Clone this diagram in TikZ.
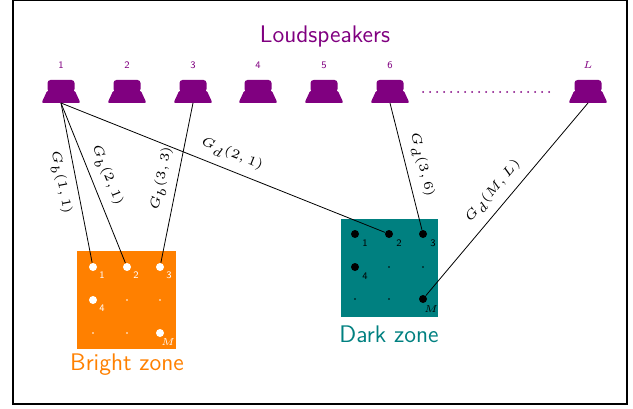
\documentclass[tikz,border=0pt]{standalone}
\usepackage{tikz}
\renewcommand{\familydefault}{\sfdefault}
\definecolor{spkcol}{RGB}{128,0,128}
\definecolor{brightcol}{RGB}{255,128,0}
\definecolor{darkcol}{RGB}{0,128,128}
\newcommand{\glab}[1]{\scalebox{1.3}{\tiny$#1$}}
\tikzset{
    speaker/.pic={
        \fill[spkcol, rounded corners=1pt] (-19.5,0) -- (-13.5,13) -- (13.5,13) -- (19.5,0) -- cycle;
        \fill[spkcol, rounded corners=1.5pt] (-13.5,11) rectangle (13.5,23);
        \coordinate (-b) at (0,0);
    }
}
\begin{document}
\begin{tikzpicture}[x=0.5pt, y=0.5pt,
        spknum/.style={font=\tiny, text=spkcol},
        glbl/.style={sloped, inner sep=4pt},
        bdot/.style={circle, fill=white, inner sep=0pt, minimum size=4pt},
        bpt/.style={circle, fill=white, inner sep=0pt, minimum size=0.8pt},
        ddot/.style={circle, fill=black, inner sep=0pt, minimum size=4pt},
        dpt/.style={circle, fill=black, inner sep=0pt, minimum size=0.8pt},
        zlbl/.style={font=\tiny, inner sep=0pt}]
    \useasboundingbox (0,0) rectangle (633,408);
    \draw[line width=0.8pt] (13,4) rectangle (627,407.6);

    \node[font=\large, text=spkcol] (title) at (325,371) {Loudspeakers};
        \pic (s1) at (61,305) {speaker};
            \node[spknum] (n1) at (61,343) {1};
        \pic (s2) at (127,305) {speaker};
            \node[spknum] (n2) at (127,343) {2};
        \pic (s3) at (193,305) {speaker};
            \node[spknum] (n3) at (193,343) {3};
        \pic (s4) at (258,305) {speaker};
            \node[spknum] (n4) at (258,343) {4};
        \pic (s5) at (324,305) {speaker};
            \node[spknum] (n5) at (324,343) {5};
        \pic (s6) at (390,305) {speaker};
            \node[spknum] (n6) at (390,343) {6};
        \pic (sL) at (588,305) {speaker};
            \node[spknum] (nL) at (588,343) {$L$};
        \draw[spkcol, line width=1pt, line cap=round, dash pattern=on 0pt off 3.5pt] (423,316) -- (554,316);

    % bright zone
    \fill[brightcol] (77,59) rectangle (176,157);
        \node[bdot] (b1) at (93,141) {};
            \node[zlbl, white] (bl1) at (102,133) {1};
        \node[bdot] (b2) at (127,141) {};
            \node[zlbl, white] (bl2) at (136,133) {2};
        \node[bdot] (b3) at (160,141) {};
            \node[zlbl, white] (bl3) at (169,133) {3};
        \node[bdot] (b4) at (93,108) {};
            \node[zlbl, white] (bl4) at (102,100) {4};
        \node[bpt] (b5) at (127,108) {};
        \node[bpt] (b6) at (160,108) {};
        \node[bpt] (b7) at (93,75) {};
        \node[bpt] (b8) at (127,75) {};
        \node[bdot] (bM) at (160,75) {};
            \node[zlbl, white] (blM) at (168,66) {$M$};
    \node[font=\large, text=brightcol] (bright) at (127,43) {Bright zone};

    % dark zone
    \fill[darkcol] (341,91) rectangle (438,189);
        \node[ddot] (d1) at (355,174) {};
            \node[zlbl] (dl1) at (365,165) {1};
        \node[ddot] (d2) at (389,174) {};
            \node[zlbl] (dl2) at (399,165) {2};
        \node[ddot] (d3) at (423,174) {};
            \node[zlbl] (dl3) at (433,165) {3};
        \node[ddot] (d4) at (355,141) {};
            \node[zlbl] (dl4) at (365,132) {4};
        \node[dpt] (d5) at (389,141) {};
        \node[dpt] (d6) at (423,141) {};
        \node[dpt] (d7) at (355,109) {};
        \node[dpt] (d8) at (389,109) {};
        \node[ddot] (dM) at (423,109) {};
            \node[zlbl] (dlM) at (431,99) {$M$};
    \node[font=\large, text=darkcol] (dark) at (389,74) {Dark zone};

    \draw (s1-b) -- node[glbl, below, pos=0.48] (gb11) {\glab{G_b(1,1)}} (b1);
    \draw (s1-b) -- node[glbl, above, pos=0.49] (gb21) {\glab{G_b(2,1)}} (b2);
    \draw (s3-b) -- node[glbl, above, pos=0.49] (gb33) {\glab{G_b(3,3)}} (b3);
    \draw (s1-b) -- node[glbl, above, pos=0.51] (gd21) {\glab{G_d(2,1)}} (d2);
    \draw (s6-b) -- node[glbl, above, pos=0.52] (gd36) {\glab{G_d(3,6)}} (d3);
    \draw (sL-b) -- node[glbl, above, pos=0.51] (gdML) {\glab{G_d(M,L)}} (dM);
\end{tikzpicture}
\end{document}
